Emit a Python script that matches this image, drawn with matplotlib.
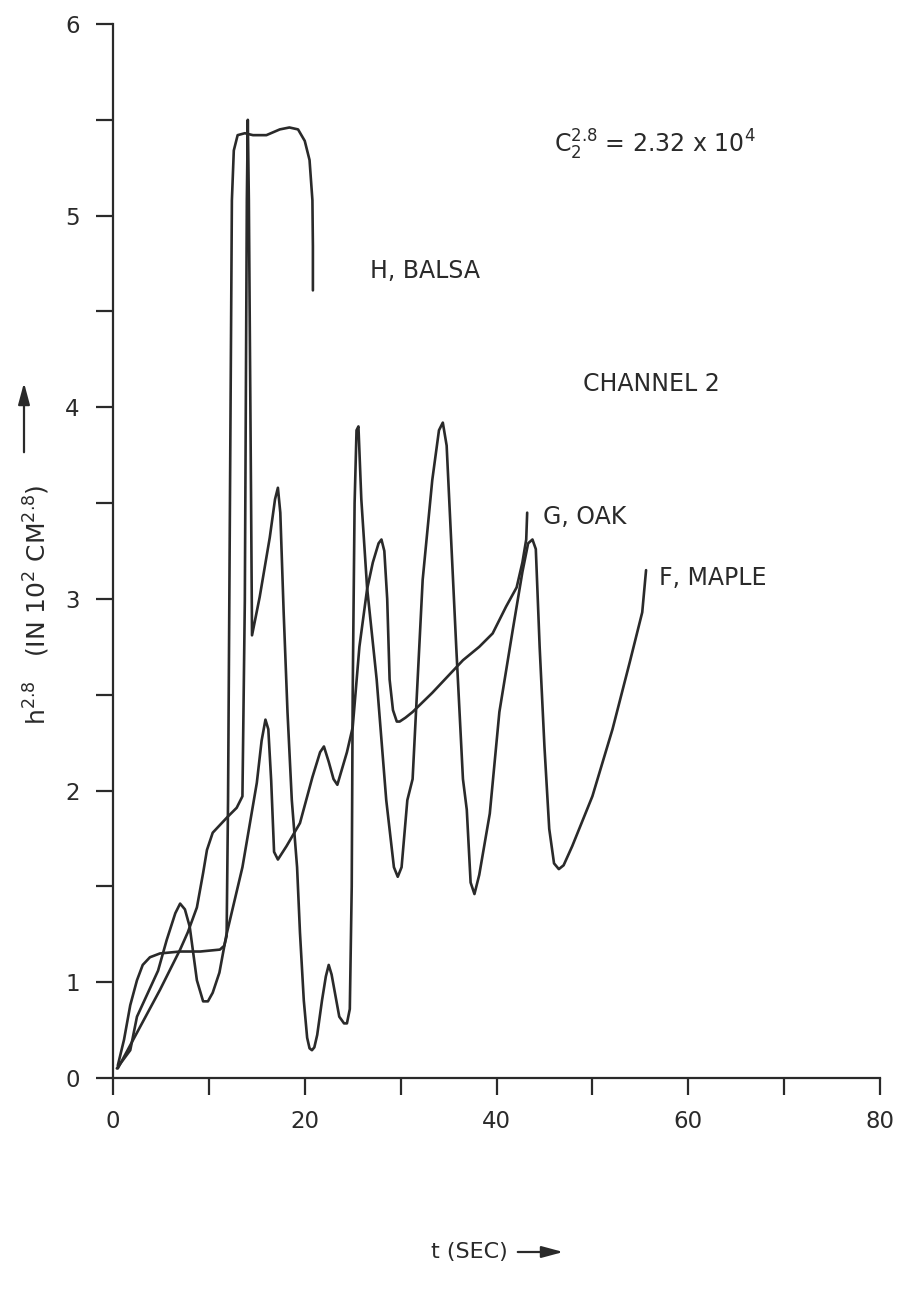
import numpy as np
import matplotlib
matplotlib.use("Agg")
import matplotlib.pyplot as plt

plt.rcParams['font.family'] = ['DejaVu Sans']
plt.rcParams['mathtext.fontset'] = 'dejavusans'

# H, BALSA
t_balsa = [0.5, 1.15, 1.8, 2.5, 3.1, 3.85, 4.9, 7.0, 9.1, 11.15, 11.6, 11.85, 12.0,
           12.2, 12.4, 12.6, 13.0, 13.75, 14.6, 16.0, 17.4, 18.4, 19.3, 20.0,
           20.5, 20.8, 20.85, 20.85]
h_balsa = [0.13, 0.40, 0.76, 1.01, 1.09, 1.13, 1.15, 1.16, 1.16, 1.17, 1.19, 1.24, 1.95,
           3.52, 5.08, 5.34, 5.42, 5.43, 5.42, 5.42, 5.45, 5.46, 5.45, 5.39,
           5.29, 5.08, 4.84, 4.61]

# G, OAK
t_oak = [0.4, 1.8, 2.5, 4.7, 5.6, 6.5, 7.0, 7.5, 8.0, 8.75, 9.4, 9.9, 10.4, 11.1,
         11.8, 13.5, 15.0, 15.5, 15.9, 16.2, 16.5, 16.8, 17.2, 18.1, 19.5, 20.8,
         21.6, 22.0, 22.5, 23.0, 23.4, 24.4, 25.0, 25.7, 26.5, 27.1, 27.7, 28.0,
         28.3, 28.6, 28.85, 29.2, 29.6, 29.9, 30.5, 31.25, 33.3, 36.5, 38.2,
         39.6, 41.0, 42.1, 42.7, 43.1, 43.2]
h_oak = [0.10, 0.29, 0.64, 1.06, 1.22, 1.36, 1.41, 1.38, 1.29, 1.01, 0.80, 0.80, 0.89, 1.05,
         1.24, 1.60, 2.04, 2.26, 2.37, 2.32, 2.05, 1.68, 1.64, 1.71, 1.83, 2.07,
         2.20, 2.23, 2.15, 2.06, 2.03, 2.20, 2.33, 2.75, 3.05, 3.19, 3.29, 3.31,
         3.25, 3.00, 2.58, 2.42, 2.36, 2.36, 2.38, 2.41, 2.51, 2.68, 2.75,
         2.82, 2.96, 3.06, 3.19, 3.31, 3.45]

# F, MAPLE
t_maple = [0.5, 4.9, 7.0, 7.8, 8.75, 9.4, 9.8, 10.4, 11.9, 12.9, 13.5, 13.75,
           13.96, 14.06, 14.17, 14.4, 14.5, 15.3, 16.35, 16.9, 17.2, 17.45, 17.8,
           18.2, 18.65, 19.2, 19.5, 19.9, 20.25, 20.5, 20.75, 21.0, 21.3, 21.8,
           22.2, 22.5, 22.8, 23.2, 23.6, 24.1, 24.4, 24.7, 24.9, 25.0, 25.2,
           25.4, 25.6, 25.9, 26.5, 27.5, 28.5, 29.3, 29.7, 30.1, 30.7, 31.25,
           32.3, 33.3, 34.0, 34.4, 34.8, 35.8, 36.5, 36.9, 37.3, 37.7, 38.2,
           39.3, 40.3, 41.7, 42.7, 43.3, 43.75, 44.1, 44.5, 45.0, 45.5, 46.0,
           46.5, 47.0, 47.9, 50.0, 52.1, 53.9, 55.2, 55.6]
h_maple = [0.10, 0.92, 1.17, 1.26, 1.39, 1.57, 1.69, 1.78, 1.86, 1.91, 1.97, 2.99,
           5.08, 5.50, 5.08, 3.52, 2.81, 3.01, 3.32, 3.52, 3.58, 3.45, 2.93,
           2.41, 1.95, 1.60, 1.26, 0.81, 0.42, 0.31, 0.29, 0.32, 0.45, 0.81,
           1.03, 1.09, 1.04, 0.86, 0.64, 0.57, 0.57, 0.72, 1.50, 2.50, 3.50,
           3.88, 3.90, 3.52, 3.06, 2.58, 1.95, 1.60, 1.55, 1.60, 1.95, 2.06,
           3.10, 3.62, 3.88, 3.92, 3.80, 2.75, 2.06, 1.90, 1.52, 1.46, 1.56,
           1.88, 2.41, 2.84, 3.14, 3.29, 3.31, 3.26, 2.75, 2.23, 1.80, 1.62,
           1.59, 1.61, 1.71, 1.97, 2.32, 2.67, 2.93, 3.15]

x_major = [0, 20, 40, 60, 80]
x_minor = [10, 30, 50, 70]
y_major = [0, 1, 2, 3, 4, 5, 6]
y_minor = [1.5, 2.5, 3.5, 4.5, 5.5]


# the printed axis squeezes 0..1 into half a division
def fwd(y):
    y = np.asarray(y, dtype=float)
    return np.where(y < 1, y / 2.0, y - 0.5)


def inv(v):
    v = np.asarray(v, dtype=float)
    return np.where(v < 0.5, v * 2.0, v + 0.5)


ink = '#2a2a2a'
fig = plt.figure(figsize=(9.01, 13.03), dpi=100)
ax = fig.add_axes([113 / 901, 225 / 1303, 767 / 901, 1054 / 1303])
ax.set_yscale('function', functions=(fwd, inv))

for t, h in [(t_balsa, h_balsa), (t_oak, h_oak), (t_maple, h_maple)]:
    ax.plot(t, h, color=ink, lw=1.9, solid_joinstyle='round', solid_capstyle='round')

ax.set_xlim(0, 80)
ax.set_ylim(0, 6)
ax.set_xticks(x_major)
ax.set_xticks(x_minor, minor=True)
ax.set_yticks(y_major)
ax.set_yticks(y_minor, minor=True)
ax.set_yticklabels([str(v) for v in y_major])
ax.set_xticklabels([str(v) for v in x_major])

for s in ['top', 'right']:
    ax.spines[s].set_visible(False)
for s in ['left', 'bottom']:
    ax.spines[s].set_linewidth(1.6)
    ax.spines[s].set_color(ink)
ax.tick_params(which='both', direction='out', length=12, width=1.6, color=ink,
               labelsize=16.5, labelcolor=ink)
ax.tick_params(axis='y', pad=12)
ax.tick_params(axis='x', pad=11)

tk = dict(fontsize=17, color=ink, va='center', ha='left')
ax.text(26.8, 4.71, 'H, BALSA', **tk)
ax.text(49.0, 4.12, 'CHANNEL 2', **tk)
ax.text(44.8, 3.43, 'G, OAK', **tk)
ax.text(57.0, 3.11, 'F, MAPLE', **tk)
ax.text(46.0, 5.37, r'$\mathregular{C_2^{2.8}}$ = 2.32 x 10$^{\mathregular{4}}$',
        fontsize=17, color=ink, va='center', ha='left')

# axis titles with arrows
fig.text(431 / 901, 1 - 1252 / 1303, 't (SEC)', fontsize=16, color=ink,
         ha='left', va='center')
ax.annotate('', xy=(566, 1303 - 1252), xytext=(515, 1303 - 1252),
            xycoords='figure pixels', textcoords='figure pixels',
            arrowprops=dict(arrowstyle='-|>,head_length=1.3,head_width=0.35',
                            color=ink, lw=1.6))
fig.text(37 / 901, 1 - 605 / 1303,
         r'h$^{\mathregular{2.8}}$   (IN 10$^{\mathregular{2}}$ CM$^{\mathregular{2.8}}$)',
         fontsize=18, color=ink, rotation=90, ha='center', va='center')
ax.annotate('', xy=(24, 1303 - 380), xytext=(24, 1303 - 455),
            xycoords='figure pixels', textcoords='figure pixels',
            arrowprops=dict(arrowstyle='-|>,head_length=1.3,head_width=0.35',
                            color=ink, lw=1.6))

fig.savefig('out.png', dpi=100, facecolor='white')
